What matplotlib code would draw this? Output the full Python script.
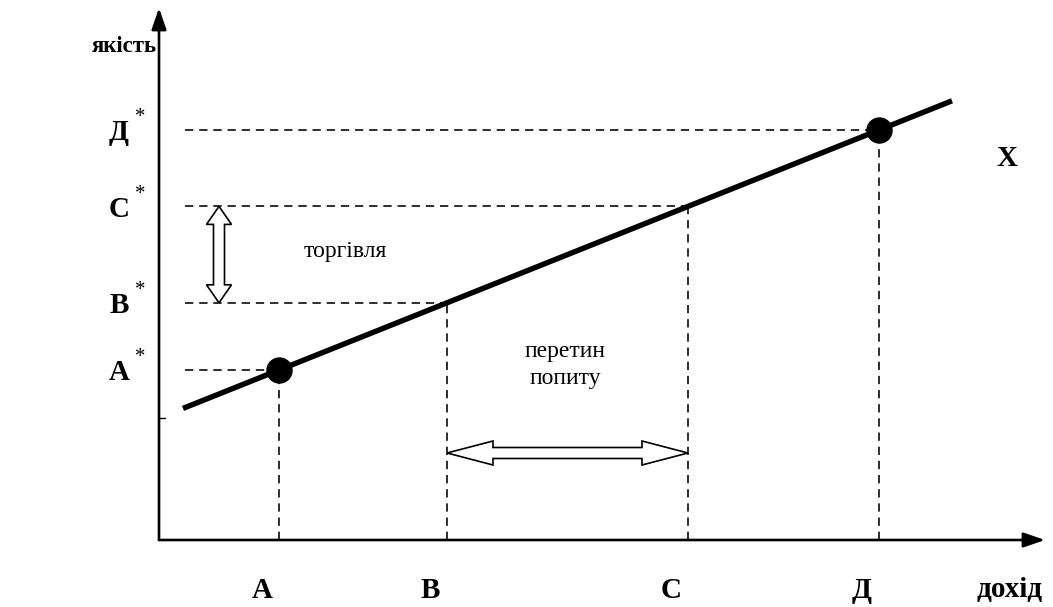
import numpy as np
import matplotlib.pyplot as plt
from matplotlib.patches import Polygon

# Schematic data (units roughly = pixels, origin where the axes cross)
income_labels = ['А', 'В', 'С', 'Д']
quality_labels = ['А', 'В', 'С', 'Д']
income_levels = [120, 288, 529, 720]   # positions of A, B, C, Д on the income axis
marked_points = [0, 3]                 # points drawn as dots (A and Д)
line_intercept = 122                   # quality at zero income
line_slope = 0.40
line_x = [24, 793]                     # start / end of the quality line


def quality(x):
    return line_intercept + line_slope * np.asarray(x, dtype=float)


def double_arrow(ax, p0, p1, w, hw, hl):
    # hollow double headed arrow as a polygon
    p0 = np.array(p0, dtype=float)
    p1 = np.array(p1, dtype=float)
    u = (p1 - p0) / np.linalg.norm(p1 - p0)
    n = np.array([-u[1], u[0]])
    pts = [p0,
           p0 + u * hl + n * hw / 2, p0 + u * hl + n * w / 2,
           p1 - u * hl + n * w / 2, p1 - u * hl + n * hw / 2,
           p1,
           p1 - u * hl - n * hw / 2, p1 - u * hl - n * w / 2,
           p0 + u * hl - n * w / 2, p0 + u * hl - n * hw / 2]
    ax.add_patch(Polygon(pts, closed=True, facecolor='white',
                         edgecolor='black', linewidth=1.2, zorder=4))


plt.rcParams['lines.scale_dashes'] = False
serif = ['Liberation Serif', 'DejaVu Serif']

fig = plt.figure(figsize=(10.53, 6.07), dpi=100)
ax = fig.add_axes([0, 0, 1, 1])
ax.set_xlim(-159, 1053 - 159)
ax.set_ylim(540 - 607, 540)
ax.axis('off')

# axes with arrow heads
ax.annotate('', xy=(0, 532), xytext=(0, 0),
            arrowprops=dict(arrowstyle='-|>,head_length=1.3,head_width=0.45',
                            color='black', lw=1.9, shrinkA=0, shrinkB=0))
ax.annotate('', xy=(886, 0), xytext=(0, 0),
            arrowprops=dict(arrowstyle='-|>,head_length=1.3,head_width=0.45',
                            color='black', lw=1.9, shrinkA=0, shrinkB=0))
# small tick at the intercept
ax.plot([0, 6], [line_intercept, line_intercept], color='black', lw=1)

# dashed guide lines
dash = (0, (6, 4.2))
for x in income_levels:
    y = quality(x)
    ax.plot([x, x], [0, y], color='black', lw=1.15, linestyle=dash, zorder=1)
    ax.plot([26, x], [y, y], color='black', lw=1.15, linestyle=dash, zorder=1)

# quality line
ax.plot(line_x, quality(line_x), color='black', lw=3.9, solid_capstyle='butt', zorder=2)
mx = [income_levels[i] for i in marked_points]
ax.plot(mx, quality(mx), 'o', color='black', markersize=18, zorder=3)

# double arrows
yb, yc = quality(income_levels[1]), quality(income_levels[2])
double_arrow(ax, (60, yb), (60, yc), w=11, hw=25, hl=18)
double_arrow(ax, (income_levels[1], 87), (income_levels[2], 87), w=11, hw=24, hl=46)

# labels
bold = dict(fontfamily=serif, fontweight='bold', color='black')
for x, lab in zip(income_levels, income_labels):
    ax.text(x - 17, -50, lab, fontsize=21, ha='center', va='center', **bold)
for x, lab in zip(income_levels, quality_labels):
    y = quality(x)
    ax.text(-40, y - 3, lab, fontsize=21, ha='center', va='center', **bold)
    ax.text(-19, y + 12, '*', fontsize=15, ha='center', va='center',
            fontfamily=serif, color='black')
ax.text(-67, 493, 'якість', fontsize=16.5, ha='left', va='center', **bold)
ax.text(851, -50, 'дохід', fontsize=21, ha='center', va='center', **bold)
ax.text(848, 382, 'X', fontsize=21, ha='center', va='center', **bold)

ax.text(186, 288, 'торгівля', fontsize=17, ha='center', va='center',
        fontfamily=serif, color='black')
ax.text(406, 175, 'перетин\nпопиту', fontsize=17, ha='center', va='center',
        fontfamily=serif, color='black', linespacing=1.35)

fig.savefig('out.png', dpi=100)
